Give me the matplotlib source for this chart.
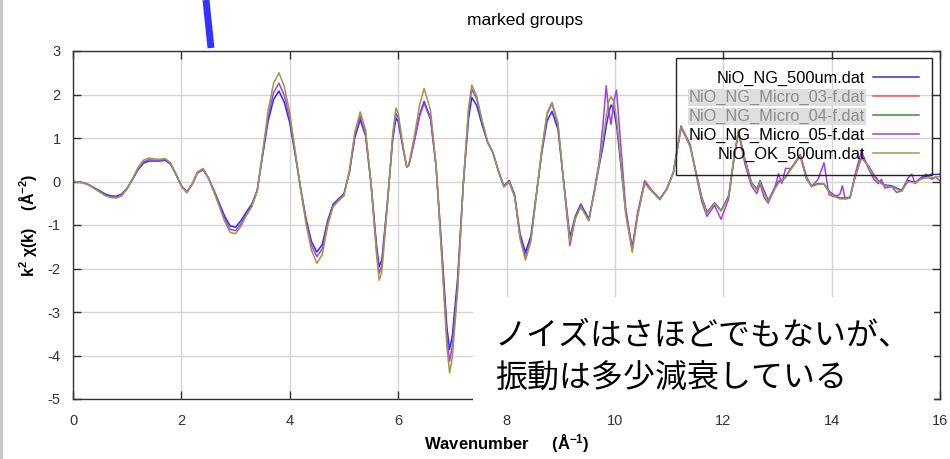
import numpy as np
import matplotlib
matplotlib.use('Agg')
import matplotlib.pyplot as plt
from matplotlib.lines import Line2D
from matplotlib.patches import Rectangle

plt.rcParams['font.family'] = ['Liberation Sans', 'DejaVu Sans']
plt.rcParams['axes.unicode_minus'] = False
plt.rcParams['mathtext.fontset'] = 'custom'
plt.rcParams['mathtext.rm'] = 'Liberation Sans:bold'
plt.rcParams['mathtext.bf'] = 'Liberation Sans:bold'
plt.rcParams['mathtext.default'] = 'bf'

# wavenumber grid (1/A)
k = [0.0, 0.1, 0.2, 0.3, 0.4, 0.5, 0.6, 0.7, 0.8, 0.9,
     1.0, 1.1, 1.2, 1.3, 1.4, 1.5, 1.6, 1.7, 1.8, 1.9,
     2.0, 2.1, 2.2, 2.3, 2.4, 2.5, 2.6, 2.7, 2.8, 2.9,
     3.0, 3.1, 3.2, 3.3, 3.4, 3.5, 3.6, 3.7, 3.8, 3.9,
     4.0, 4.1, 4.2, 4.3, 4.4, 4.5, 4.6, 4.7, 4.8, 4.9,
     5.0, 5.1, 5.2, 5.3, 5.4, 5.5, 5.6, 5.65, 5.7, 5.8,
     5.9, 5.96, 6.0, 6.1, 6.16, 6.2, 6.3, 6.4, 6.48, 6.6,
     6.7, 6.8, 6.9, 6.95, 7.0, 7.1, 7.2, 7.3, 7.36, 7.45,
     7.55, 7.65, 7.75, 7.85, 7.95, 8.05, 8.15, 8.25, 8.35, 8.45,
     8.55, 8.65, 8.75, 8.84, 8.95, 9.05, 9.17, 9.27, 9.37, 9.52,
     9.62, 9.71, 9.78, 9.84, 9.89, 9.93, 9.98, 10.03, 10.1, 10.2,
     10.32, 10.42, 10.55, 10.68, 10.83, 10.96, 11.08, 11.22, 11.3, 11.39,
     11.5, 11.6, 11.7, 11.84, 11.96, 12.1, 12.2, 12.28, 12.4, 12.52,
     12.62, 12.68, 12.75, 12.83, 12.95, 13.02, 13.08, 13.15, 13.26, 13.42,
     13.54, 13.63, 13.75, 13.86, 13.95, 14.05, 14.15, 14.2, 14.25, 14.34,
     14.43, 14.55, 14.68, 14.78, 14.86, 14.92, 14.98, 15.11, 15.2, 15.29,
     15.41, 15.48, 15.54, 15.66, 15.75, 15.85, 15.92, 16.0]

# k^2 chi(k) for NiO_NG_500um.dat
ng_500um = [0, -0.01, -0.03, -0.08, -0.15, -0.22, -0.29, -0.33, -0.34, -0.29,
            -0.15, 0.05, 0.27, 0.42, 0.47, 0.47, 0.47, 0.49, 0.40, 0.16,
            -0.10, -0.24, -0.06, 0.20, 0.27, 0.08, -0.20, -0.50, -0.80, -1.02,
            -1.05, -0.90, -0.70, -0.52, -0.20, 0.60, 1.38, 1.88, 2.08, 1.82,
            1.35, 0.62, -0.15, -0.85, -1.38, -1.62, -1.45, -0.90, -0.52, -0.40,
            -0.28, 0.20, 1.00, 1.42, 1.05, -0.05, -1.45, -1.96, -1.80, -0.50,
            0.95, 1.46, 1.38, 0.70, 0.33, 0.38, 0.95, 1.55, 1.84, 1.45,
            0.35, -1.45, -3.35, -3.86, -3.55, -2.20, -0.10, 1.45, 1.93, 1.75,
            1.30, 0.90, 0.66, 0.25, -0.10, 0.02, -0.30, -1.20, -1.63, -1.25,
            -0.30, 0.65, 1.40, 1.61, 1.20, 0.05, -1.28, -0.80, -0.52, -0.86,
            -0.25, 0.36, 0.80, 1.27, 1.60, 1.76, 1.65, 1.30, 0.50, -0.70,
            -1.52, -0.75, -0.02, -0.21, -0.40, -0.17, 0.20, 1.23, 1.05, 0.81,
            0.20, -0.35, -0.71, -0.49, -0.67, -0.33, 0.55, 1.12, 0.51, -0.02,
            -0.18, 0.02, -0.20, -0.44, -0.14, 0.00, 0.02, 0.10, 0.32, 0.60,
            0.05, -0.10, -0.05, -0.06, -0.22, -0.32, -0.38, -0.38, -0.38, -0.36,
            0.09, 0.55, 0.36, 0.15, 0.02, -0.03, -0.08, -0.10, -0.15, -0.21,
            0.02, 0.00, -0.02, 0.09, 0.12, 0.17, 0.16, 0.17]

# NiO_NG_Micro_05-f.dat
micro_05 = [0, -0.01, -0.03, -0.08, -0.16, -0.24, -0.31, -0.35, -0.36, -0.31,
            -0.16, 0.05, 0.29, 0.45, 0.50, 0.49, 0.49, 0.51, 0.42, 0.17,
            -0.10, -0.25, -0.06, 0.21, 0.28, 0.08, -0.22, -0.54, -0.86, -1.10,
            -1.13, -0.97, -0.75, -0.56, -0.21, 0.65, 1.48, 2.04, 2.26, 1.98,
            1.45, 0.66, -0.16, -0.90, -1.47, -1.73, -1.55, -0.96, -0.55, -0.42,
            -0.30, 0.22, 1.06, 1.50, 1.10, -0.05, -1.55, -2.11, -1.93, -0.54,
            1.02, 1.57, 1.47, 0.72, 0.33, 0.38, 0.93, 1.52, 1.80, 1.42,
            0.36, -1.55, -3.58, -4.13, -3.80, -2.35, -0.10, 1.60, 2.12, 1.90,
            1.38, 0.92, 0.66, 0.24, -0.12, -0.02, -0.34, -1.27, -1.73, -1.33,
            -0.32, 0.70, 1.55, 1.79, 1.30, 0.05, -1.47, -0.85, -0.55, -0.90,
            -0.20, 0.45, 1.30, 2.20, 1.60, 1.31, 1.85, 2.10, 1.00, -0.60,
            -1.58, -0.72, 0.02, -0.20, -0.41, -0.16, 0.22, 1.28, 1.08, 0.85,
            0.15, -0.45, -0.80, -0.55, -0.87, -0.40, 0.55, 1.15, 0.40, -0.10,
            -0.28, -0.05, -0.35, -0.50, -0.15, 0.18, -0.05, 0.30, 0.30, 0.62,
            0.10, -0.12, 0.05, 0.43, -0.30, -0.35, -0.30, -0.10, -0.40, -0.38,
            0.15, 0.70, 0.30, 0.05, -0.05, 0.05, -0.15, -0.12, -0.25, -0.22,
            0.08, 0.17, -0.05, 0.10, 0.17, 0.05, 0.10, 0.02]

# NiO_OK_500um.dat
ok_500um = [0, -0.01, -0.04, -0.09, -0.17, -0.25, -0.33, -0.37, -0.38, -0.33,
            -0.17, 0.07, 0.32, 0.49, 0.54, 0.52, 0.51, 0.53, 0.43, 0.17,
            -0.11, -0.26, -0.06, 0.22, 0.30, 0.08, -0.24, -0.58, -0.92, -1.17,
            -1.20, -1.03, -0.78, -0.58, -0.22, 0.68, 1.62, 2.25, 2.50, 2.18,
            1.58, 0.70, -0.17, -0.97, -1.58, -1.88, -1.68, -1.02, -0.58, -0.45,
            -0.33, 0.24, 1.13, 1.60, 1.18, -0.06, -1.66, -2.27, -2.08, -0.58,
            1.10, 1.69, 1.58, 0.75, 0.33, 0.40, 1.05, 1.78, 2.14, 1.62,
            0.38, -1.65, -3.80, -4.40, -4.05, -2.50, -0.10, 1.70, 2.22, 1.96,
            1.40, 0.92, 0.66, 0.24, -0.12, 0.00, -0.34, -1.32, -1.81, -1.38,
            -0.33, 0.72, 1.58, 1.82, 1.35, 0.05, -1.38, -0.85, -0.59, -0.90,
            -0.25, 0.40, 0.95, 1.50, 1.85, 1.95, 1.85, 1.45, 0.60, -0.75,
            -1.63, -0.80, -0.04, -0.23, -0.42, -0.18, 0.20, 1.24, 1.05, 0.80,
            0.18, -0.38, -0.73, -0.50, -0.68, -0.35, 0.58, 1.19, 0.50, -0.03,
            -0.20, 0.00, -0.25, -0.46, -0.18, -0.03, 0.00, 0.10, 0.30, 0.58,
            0.05, -0.12, -0.06, -0.06, -0.24, -0.34, -0.40, -0.40, -0.40, -0.37,
            0.08, 0.55, 0.35, 0.12, 0.00, -0.05, -0.10, -0.12, -0.17, -0.23,
            0.00, -0.02, -0.03, 0.06, 0.08, 0.09, 0.10, 0.12]

labels = ['NiO_NG_500um.dat', 'NiO_NG_Micro_03-f.dat', 'NiO_NG_Micro_04-f.dat',
          'NiO_NG_Micro_05-f.dat', 'NiO_OK_500um.dat']
colors = ['#2b2bff', '#ff5050', '#3a8a3a', '#a63cf0', '#9e9a40']
hidden = [1, 2]   # Micro_03 / Micro_04 switched off

fig = plt.figure(figsize=(9.5, 4.59), dpi=100)
ax = fig.add_axes([73 / 950, 60 / 459, 867 / 950, 348 / 459])

ax.plot(k, ng_500um, color=colors[0], lw=1.1)
ax.plot(k, micro_05, color=colors[3], lw=1.1)
ax.plot(k, ok_500um, color=colors[4], lw=1.1)

ax.set_xlim(0, 16)
ax.set_ylim(-5, 3)
ax.set_xticks(np.arange(0, 17, 2))
ax.set_yticks(np.arange(-5, 4, 1))
ax.grid(True, color='#d4d4d4', lw=1.0)
ax.set_axisbelow(True)
ax.tick_params(direction='in', length=6, width=1, top=True, right=True,
               colors='#333333', labelsize=10.5)
ax.tick_params(axis='x', pad=11)
ax.tick_params(axis='y', pad=9)
for s in ax.spines.values():
    s.set_color('#333333')
    s.set_linewidth(1.0)

ax.set_xlabel('Wavenumber     (Å$^{-1}$)', fontsize=12, fontweight='bold')
ax.set_ylabel('k$^2$ χ(k)    (Å$^{-2}$)', fontsize=11.5, fontweight='bold')
ax.xaxis.set_label_coords(0.5, -0.095)
ax.yaxis.set_label_coords(-0.039, 0.5)

handles = [Line2D([], [], color=c, lw=1.1) for c in colors]
leg = ax.legend(handles, labels, loc='upper right', bbox_to_anchor=(0.991, 0.98),
                markerfirst=False, fancybox=False, edgecolor='#222222',
                fontsize=11.8, handlelength=2.8, handletextpad=0.5,
                labelspacing=0.23, borderpad=0.8, borderaxespad=0)
frame = leg.get_frame()
frame.set_facecolor('none')
frame.set_alpha(None)
frame.set_linewidth(1.0)
for i in hidden:
    t = leg.get_texts()[i]
    t.set_color('#8c8c8c')
    t.set_bbox(dict(facecolor='#dedede', edgecolor='none', pad=1))

fig.text(525 / 950, 1 - 20 / 459, 'marked groups', ha='center', va='center', fontsize=12.5)

# comment box over the lower right of the plot
fig.add_artist(Rectangle((473 / 950, 1 - 401 / 459), 461 / 950, 104 / 459,
                         transform=fig.transFigure, facecolor='white',
                         edgecolor='none', zorder=5))
fig.text(495 / 950, 1 - 345 / 459, 'ノイズはさほどでもないが、', fontsize=23,
         family=['Noto Sans CJK JP', 'DejaVu Sans'], va='baseline', zorder=6)
fig.text(495 / 950, 1 - 388 / 459, '振動は多少減衰している', fontsize=23,
         family=['Noto Sans CJK JP', 'DejaVu Sans'], va='baseline', zorder=6)

# strip on the left edge and the pointer stroke at the top
fig.add_artist(Rectangle((0, 0), 3 / 950, 1, transform=fig.transFigure,
                         facecolor='#c8c8c8', edgecolor='none', zorder=5))
fig.add_artist(Line2D([206 / 950, 211 / 950], [1.0, 1 - 48 / 459],
                      transform=fig.transFigure, color='#3333ff', lw=5,
                      solid_capstyle='butt', zorder=5))

fig.savefig('out.png', dpi=100)
